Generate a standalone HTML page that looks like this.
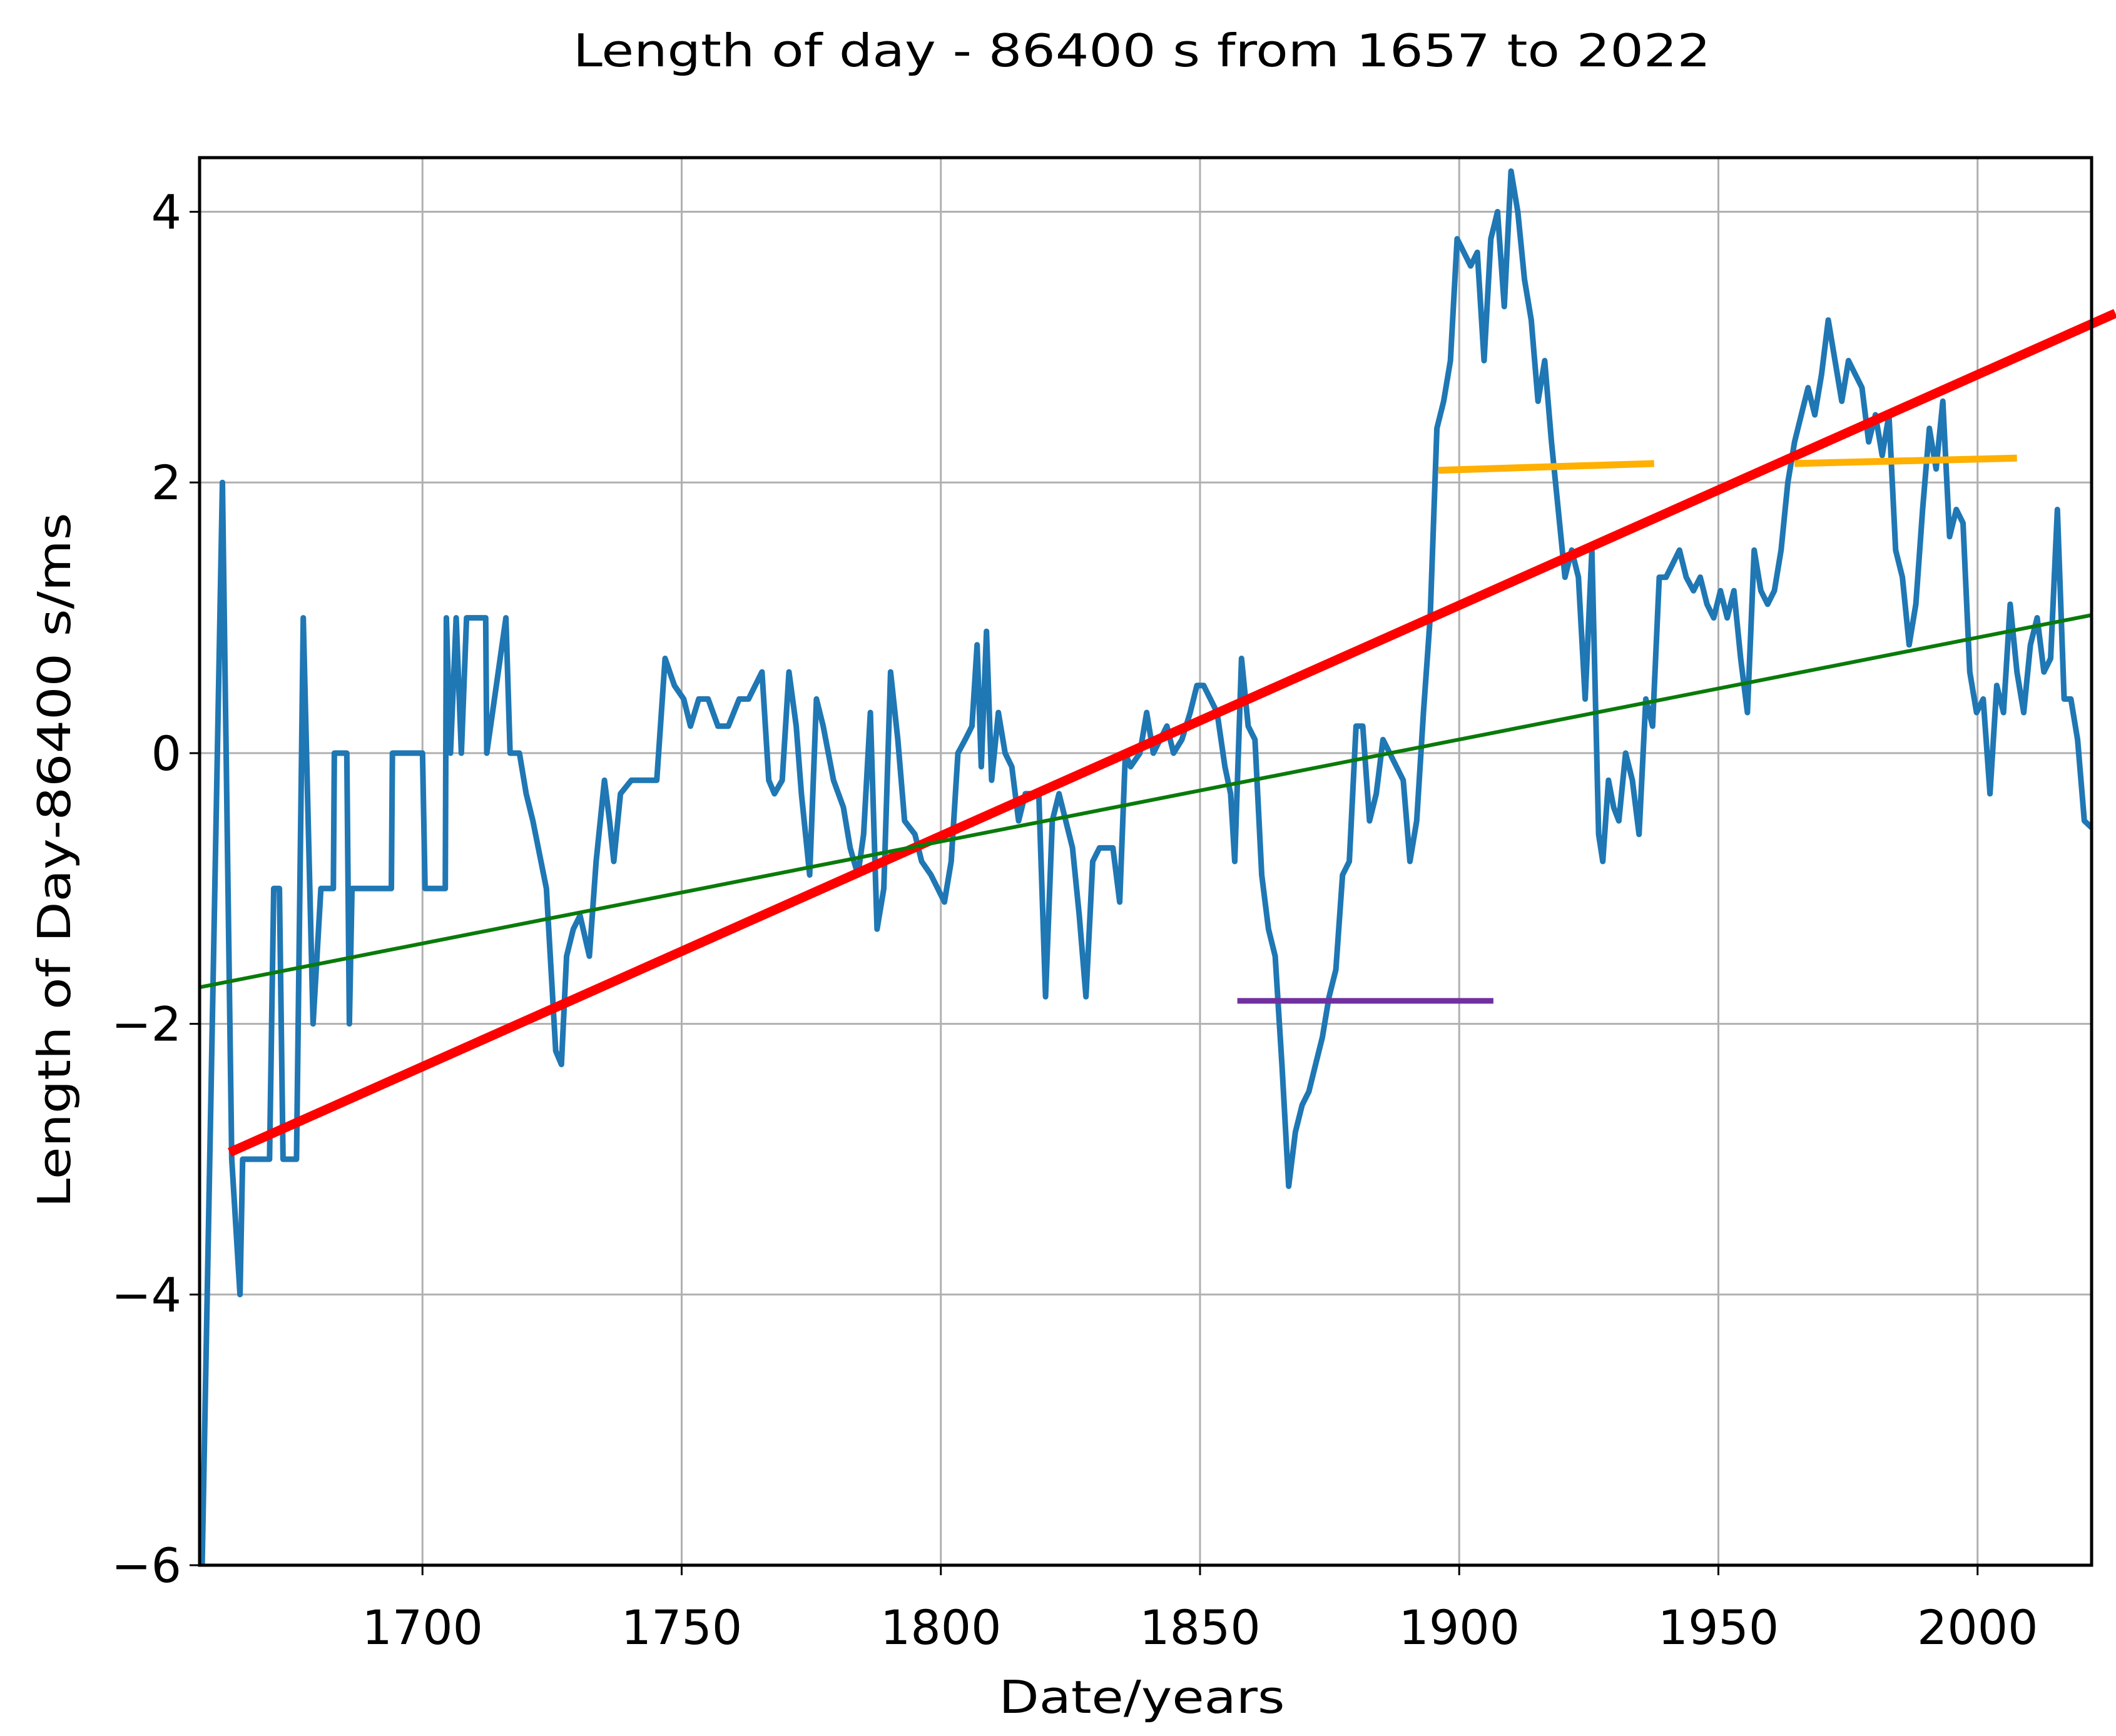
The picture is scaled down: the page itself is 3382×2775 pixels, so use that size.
<!DOCTYPE html>
<html><head><meta charset="utf-8"><style>
html,body{margin:0;padding:0;background:#fff;}
svg{display:block;}
text{font-family:"DejaVu Sans","Liberation Sans",sans-serif;fill:#000;}
</style></head><body>
<svg id="chart" xmlns="http://www.w3.org/2000/svg" width="3382" height="2775" viewBox="0 0 3382 2775">
<defs><clipPath id="plotclip"><rect x="319" y="252" width="3024" height="2250"/></clipPath></defs>
<rect x="0" y="0" width="3382" height="2775" fill="#fff"/>
<g id="grid"></g>
<g id="series" clip-path="url(#plotclip)"></g>
<g id="trends"></g>
<rect x="319" y="252" width="3024" height="2250" fill="none" stroke="#000" stroke-width="5"/>
<g id="ticks"></g>
<text x="1825" y="106" text-anchor="middle" font-size="72" textLength="1818" lengthAdjust="spacingAndGlyphs">Length of day - 86400 s from 1657 to 2022</text>
<text x="1825" y="2738" text-anchor="middle" font-size="72" textLength="457" lengthAdjust="spacingAndGlyphs">Date/years</text>
<text transform="translate(112,1375) rotate(-90)" text-anchor="middle" font-size="72" textLength="1111" lengthAdjust="spacingAndGlyphs">Length of Day-86400 s/ms</text>
</svg>
<script>
const xTicks = [1700, 1750, 1800, 1850, 1900, 1950, 2000];
const yTicks = [-6, -4, -2, 0, 2, 4];
const yTickLabels = ["\u22126", "\u22124", "\u22122", "0", "2", "4"];
const years = [1657.0,1657.5,1661.4,1663.2,1664.8,1665.3,1670.5,1671.3,1672.4,1673.1,1675.7,1677.0,1678.9,1680.4,1682.8,1683.0,1685.4,1685.9,1686.4,1694.0,1694.2,1700.0,1700.5,1704.4,1704.6,1705.4,1706.5,1707.5,1708.5,1712.2,1712.4,1716.1,1716.9,1718.7,1720.0,1721.3,1723.9,1725.7,1726.8,1727.8,1729.1,1730.4,1732.2,1733.5,1735.1,1736.1,1736.9,1738.2,1740.3,1742.1,1745.2,1746.8,1748.6,1750.4,1751.7,1753.3,1755.1,1757.0,1759.0,1761.1,1762.9,1764.2,1765.5,1766.8,1767.9,1769.4,1770.7,1772.1,1773.1,1774.7,1776.0,1777.3,1779.3,1781.2,1782.5,1784.0,1785.1,1786.4,1787.7,1789.0,1790.3,1791.7,1793.0,1795.0,1796.3,1798.1,1799.4,1800.7,1802.0,1803.3,1804.7,1806.0,1807.0,1807.8,1808.8,1809.8,1811.1,1812.4,1813.7,1815.0,1816.3,1817.9,1818.9,1820.2,1821.5,1822.8,1824.1,1825.4,1826.7,1828.0,1829.3,1830.6,1831.9,1833.2,1834.5,1835.6,1836.6,1838.4,1839.7,1841.0,1842.3,1843.6,1844.9,1846.5,1848.1,1849.4,1850.7,1852.0,1853.3,1854.8,1855.9,1856.7,1858.0,1859.3,1860.6,1861.9,1863.2,1864.5,1865.8,1867.1,1868.4,1869.7,1871.0,1872.3,1873.6,1874.9,1876.2,1877.5,1878.8,1880.1,1881.4,1882.7,1884.0,1885.3,1886.6,1889.2,1890.5,1891.8,1893.1,1894.4,1895.7,1897.0,1898.3,1899.6,1900.9,1902.2,1903.5,1904.8,1906.1,1907.4,1908.7,1910.0,1911.3,1912.6,1913.9,1915.2,1916.5,1917.8,1919.1,1920.4,1921.7,1923.0,1924.3,1925.6,1926.9,1927.7,1928.8,1929.8,1930.8,1932.1,1933.4,1934.7,1936.0,1937.3,1938.6,1939.9,1941.2,1942.5,1943.8,1945.2,1946.5,1947.8,1949.1,1950.4,1951.7,1953.0,1954.3,1955.6,1956.9,1958.2,1959.5,1960.8,1962.1,1963.4,1964.7,1966.0,1967.3,1968.6,1969.9,1971.2,1972.5,1973.8,1975.1,1976.4,1977.7,1979.0,1980.3,1981.6,1982.9,1984.2,1985.5,1986.8,1988.1,1989.4,1990.7,1992.0,1993.3,1994.6,1995.9,1997.2,1998.5,1999.8,2001.1,2002.4,2003.7,2005.0,2006.3,2007.6,2008.9,2010.2,2011.5,2012.8,2014.1,2015.4,2016.7,2018.0,2019.3,2020.6,2022.0];
const lod = [-6,-6,2,-3,-4,-3,-3,-1,-1,-3,-3,1,-2,-1,-1,0,0,-2,-1,-1,0,0,-1,-1,1,0,1,0,1,1,0,1,0,0,-0.3,-0.5,-1,-2.2,-2.3,-1.5,-1.3,-1.2,-1.5,-0.8,-0.2,-0.5,-0.8,-0.3,-0.2,-0.2,-0.2,0.7,0.5,0.4,0.2,0.4,0.4,0.2,0.2,0.4,0.4,0.5,0.6,-0.2,-0.3,-0.2,0.6,0.2,-0.3,-0.9,0.4,0.2,-0.2,-0.4,-0.7,-0.9,-0.6,0.3,-1.3,-1.0,0.6,0.1,-0.5,-0.6,-0.8,-0.9,-1.0,-1.1,-0.8,0,0.1,0.2,0.8,-0.1,0.9,-0.2,0.3,0,-0.1,-0.5,-0.3,-0.3,-0.3,-1.8,-0.5,-0.3,-0.5,-0.7,-1.2,-1.8,-0.8,-0.7,-0.7,-0.7,-1.1,0,-0.1,0,0.3,0,0.1,0.2,0,0.1,0.3,0.5,0.5,0.4,0.3,-0.1,-0.3,-0.8,0.7,0.2,0.1,-0.9,-1.3,-1.5,-2.3,-3.2,-2.8,-2.6,-2.5,-2.3,-2.1,-1.8,-1.6,-0.9,-0.8,0.2,0.2,-0.5,-0.3,0.1,0,-0.2,-0.8,-0.5,0.3,1.0,2.4,2.6,2.9,3.8,3.7,3.6,3.7,2.9,3.8,4.0,3.3,4.3,4.0,3.5,3.2,2.6,2.9,2.3,1.8,1.3,1.5,1.3,0.4,1.5,-0.6,-0.8,-0.2,-0.4,-0.5,0.0,-0.2,-0.6,0.4,0.2,1.3,1.3,1.4,1.5,1.3,1.2,1.3,1.1,1.0,1.2,1.0,1.2,0.7,0.3,1.5,1.2,1.1,1.2,1.5,2.0,2.3,2.5,2.7,2.5,2.8,3.2,2.9,2.6,2.9,2.8,2.7,2.3,2.5,2.2,2.5,1.5,1.3,0.8,1.1,1.8,2.4,2.1,2.6,1.6,1.8,1.7,0.6,0.3,0.4,-0.3,0.5,0.3,1.1,0.6,0.3,0.8,1.0,0.6,0.7,1.8,0.4,0.4,0.1,-0.5,-0.55];
const trendNames = ["red-trend-line","green-trend-line","purple-level-line","orange-level-line-1","orange-level-line-2"];
const trendX0 = [1662.8, 1657, 1857.2, 1896.0, 1964.7];
const trendY0 = [-2.95, -1.73, -1.83, 2.09, 2.14];
const trendX1 = [2026.6, 2022, 1906.6, 1937.6, 2007.6];
const trendY1 = [3.25, 1.02, -1.83, 2.14, 2.18];
const trendColors = ["#ff0000","#0a7a0a","#7030a0","#ffb000","#ffb000"];
const trendWidths = [15, 6, 9, 11, 11];

const NS = "http://www.w3.org/2000/svg";
const X0 = 319, X1 = 3343, Y0 = 252, Y1 = 2502, XMIN = 1657, XMAX = 2022, YMIN = -6, YMAX = 4.4;
function sx(v){ return X0 + (v - XMIN) / (XMAX - XMIN) * (X1 - X0); }
function sy(v){ return Y1 - (v - YMIN) / (YMAX - YMIN) * (Y1 - Y0); }
function mk(tag, attrs){ const e = document.createElementNS(NS, tag); for (const k in attrs) e.setAttribute(k, attrs[k]); return e; }
const grid = document.getElementById('grid'), ticks = document.getElementById('ticks');
xTicks.forEach(function(t){
  const g = mk('line', {x1: sx(t), x2: sx(t), y1: Y0, y2: Y1, stroke: '#b0b0b0', 'stroke-width': 3});
  
  
  grid.appendChild(g);
  const tm = mk('line', {x1: sx(t), x2: sx(t), y1: Y1, y2: Y1 + 16, stroke: '#000', 'stroke-width': 3});
  
  
  ticks.appendChild(tm);
  const lb = mk('text', {x: sx(t), y: 2628, 'text-anchor': 'middle', 'font-size': 76});
  lb.textContent = String(t);
  
  
  ticks.appendChild(lb);
});
yTicks.forEach(function(t, i){
  const g = mk('line', {x1: X0, x2: X1, y1: sy(t), y2: sy(t), stroke: '#b0b0b0', 'stroke-width': 3});
  
  
  grid.appendChild(g);
  const tm = mk('line', {x1: X0 - 16, x2: X0, y1: sy(t), y2: sy(t), stroke: '#000', 'stroke-width': 3});
  
  
  ticks.appendChild(tm);
  const lb = mk('text', {x: 290, y: sy(t) + 27, 'text-anchor': 'end', 'font-size': 76});
  lb.textContent = yTickLabels[i];
  
  
  ticks.appendChild(lb);
});
const pts = years.map(function(y, i){ return sx(y).toFixed(1) + ',' + sy(lod[i]).toFixed(1); }).join(' ');
const pl = mk('polyline', {points: pts, fill: 'none', stroke: '#1f77b4', 'stroke-width': 9, 'stroke-linejoin': 'round'});


document.getElementById('series').appendChild(pl);
const tr = document.getElementById('trends');
trendNames.forEach(function(n, i){
  const l = mk('line', {x1: sx(trendX0[i]), y1: sy(trendY0[i]), x2: sx(trendX1[i]), y2: sy(trendY1[i]), stroke: trendColors[i], 'stroke-width': trendWidths[i]});
  
  
  tr.appendChild(l);
});
</script>
</body></html>
